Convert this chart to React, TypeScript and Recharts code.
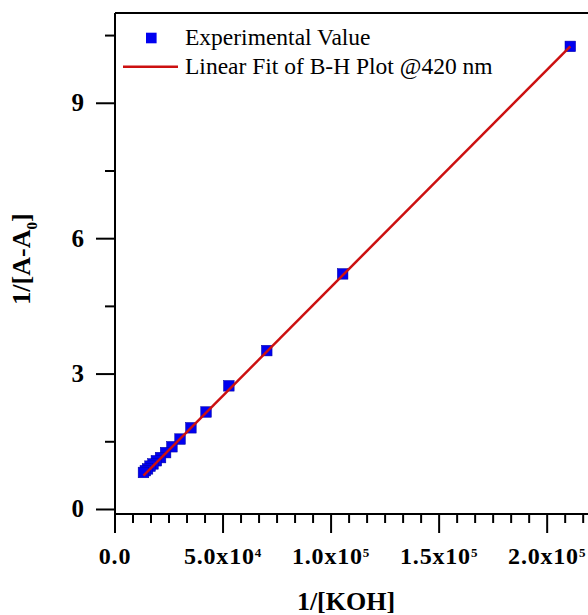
import React from "react";
import { ScatterChart, Scatter, XAxis, YAxis, ReferenceLine } from "recharts";

// experimental points
const koh = [210700, 105350, 70230, 52680, 42140, 35120, 30100, 26340, 23410, 21070, 19150, 17560, 16210, 15050, 14050, 13170];
const invA = [10.26, 5.22, 3.52, 2.74, 2.16, 1.81, 1.56, 1.39, 1.26, 1.15, 1.08, 1.01, 0.96, 0.9, 0.86, 0.82];

// linear fit end points
const fitX = [13170, 210700];
const fitY = [0.75, 10.26];

const xMajor = [0, 50000, 100000, 150000, 200000];
const yMajor = [0, 3, 6, 9];
const yMinor = [1.5, 4.5, 7.5, 10.5];

const FONT = '"Liberation Serif", "Times New Roman", serif';
const BLUE = "#0000f0";
const RED = "#cc1010";

const points = koh.map((x, i) => ({ x, y: invA[i] }));
const fit = fitX.map((x, i) => ({ x, y: fitY[i] }));

// six minor divisions between x majors, as on the original axis
const xTicks: number[] = [];
for (let i = 0; i < xMajor.length; i++) {
  for (let k = 0; k < 6; k++) {
    const v = xMajor[i] + (k * 50000) / 6;
    if (v <= 225000) xTicks.push(v);
  }
}
const yTicks = [...yMajor, ...yMinor].sort((a, b) => a - b);

const isMajorX = (v: number) => xMajor.some((m) => Math.abs(m - v) < 1);

const XTick = (props: any) => {
  const { x, y, payload } = props;
  const v = payload.value;
  const major = isMajorX(v);
  let label: React.ReactNode = null;
  if (major) {
    if (v === 0) {
      label = "0.0";
    } else {
      const e = Math.floor(Math.log10(v));
      const m = (v / Math.pow(10, e)).toFixed(1);
      label = (
        <>
          {m + "x10"}
          <tspan fontSize={13} dy={-7}>{e}</tspan>
        </>
      );
    }
  }
  return (
    <g>
      <line x1={x} x2={x} y1={y} y2={y + (major ? 19 : 9)} stroke="#000" strokeWidth={2} />
      {major && (
        <text x={x} y={y + 50} textAnchor="middle" fontFamily={FONT} fontWeight="bold" fontSize={24} letterSpacing={0.8} fill="#000">
          {label}
        </text>
      )}
    </g>
  );
};

const YTick = (props: any) => {
  const { x, y, payload } = props;
  const major = yMajor.includes(payload.value);
  return (
    <g>
      <line x1={x - (major ? 19 : 10)} x2={x} y1={y} y2={y} stroke="#000" strokeWidth={2} />
      {major && (
        <text x={x - 31} y={y + 8} textAnchor="end" fontFamily={FONT} fontWeight="bold" fontSize={25} fill="#000">
          {payload.value}
        </text>
      )}
    </g>
  );
};

const Square = (props: any) => {
  const { cx, cy } = props;
  if (cx == null || cy == null) return <g />;
  return <rect x={cx - 5.3} y={cy - 5.3} width={10.6} height={10.6} fill={BLUE} stroke="#0000a0" strokeWidth={0.5} />;
};

export default function App() {
  return (
    <div style={{ position: "absolute", left: 0, top: 0, width: 588, height: 615, overflow: "hidden", background: "#fff" }}>
      <ScatterChart width={640} height={615} margin={{ top: 13, right: 28, bottom: 0, left: 0 }}>
        <XAxis
          type="number"
          dataKey="x"
          domain={[0, 230000]}
          ticks={xTicks}
          interval={0}
          tickSize={0}
          tickMargin={0}
          tick={<XTick />}
          height={101}
          axisLine={{ stroke: "#000", strokeWidth: 2 }}
          allowDataOverflow
        />
        <YAxis
          type="number"
          dataKey="y"
          domain={[-0.1, 11]}
          ticks={yTicks}
          interval={0}
          tickSize={0}
          tickMargin={0}
          tick={<YTick />}
          width={115}
          axisLine={{ stroke: "#000", strokeWidth: 2 }}
          allowDataOverflow
        />
        <ReferenceLine y={11} stroke="#000" strokeWidth={2} />
        <Scatter data={points} shape={<Square />} isAnimationActive={false} />
        <Scatter data={fit} shape={() => <g />} line={{ stroke: RED, strokeWidth: 2.5 }} isAnimationActive={false} />
      </ScatterChart>

      <svg width={588} height={615} style={{ position: "absolute", left: 0, top: 0, pointerEvents: "none" }}>
        <rect x={146} y={32.7} width={10.6} height={10.6} fill={BLUE} />
        <text x={185} y={45} fontFamily={FONT} fontSize={23.5} fill="#000">Experimental Value</text>
        <line x1={123} x2={178} y1={66.7} y2={66.7} stroke={RED} strokeWidth={2.5} />
        <text x={185} y={74} fontFamily={FONT} fontSize={23.5} fill="#000">Linear Fit of B-H Plot @420 nm</text>

        <text x={346} y={610} textAnchor="middle" fontFamily={FONT} fontWeight="bold" fontSize={26} fill="#000">1/[KOH]</text>
        <text x={30} y={259} transform="rotate(-90, 30, 259)" textAnchor="middle" fontFamily={FONT} fontWeight="bold" fontSize={26} fill="#000">
          1/[A-A<tspan fontSize={15} dy={7}>0</tspan><tspan dy={-7}>]</tspan>
        </text>
      </svg>
    </div>
  );
}
